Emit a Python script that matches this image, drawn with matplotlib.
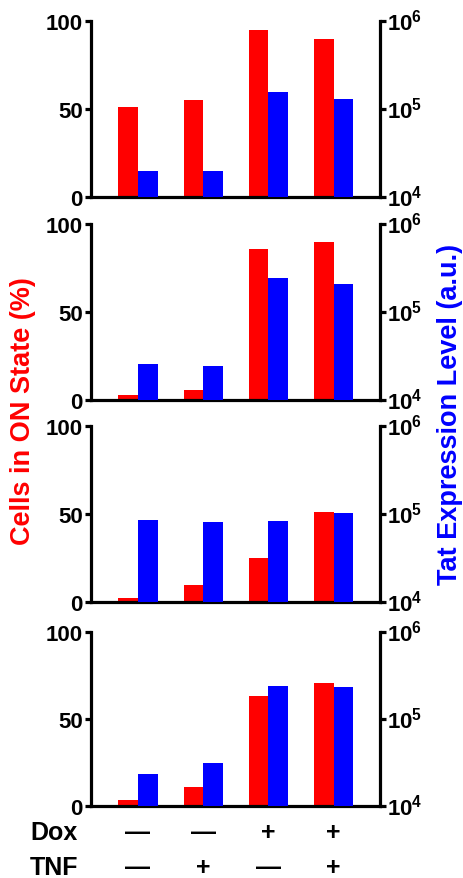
import numpy as np
import matplotlib
matplotlib.use("Agg")
import matplotlib.pyplot as plt
from matplotlib.transforms import blended_transform_factory, ScaledTranslation

plt.rcParams['font.family'] = ['Liberation Sans', 'DejaVu Sans']
plt.rcParams['font.weight'] = 'bold'
plt.rcParams['mathtext.fontset'] = 'custom'
plt.rcParams['mathtext.rm'] = 'Liberation Sans:bold'
plt.rcParams['mathtext.it'] = 'Liberation Sans:bold'
plt.rcParams['mathtext.bf'] = 'Liberation Sans:bold'

# percent of cells in ON state (left axis), one list per panel
on_state = [
    [51, 55, 95, 90],
    [3.1, 5.9, 85.6, 89.8],
    [2.4, 9.4, 24.8, 50.9],
    [3.6, 11.0, 63.0, 70.8],
]
# Tat expression level (right axis, log)
tat_level = [
    [2.0e4, 2.0e4, 1.55e5, 1.3e5],
    [2.55e4, 2.44e4, 2.43e5, 2.07e5],
    [8.6e4, 8.1e4, 8.4e4, 1.03e5],
    [2.32e4, 3.16e4, 2.37e5, 2.32e5],
]
dox = ['—', '—', '+', '+']
tnf = ['—', '+', '—', '+']

W, H = 464, 879
fig = plt.figure(figsize=(W / 100, H / 100), dpi=100)

# panel top/bottom in pixels from the top of the image
panels_px = [(22, 198), (225, 401), (427, 603), (633, 807)]
x_left, x_right = 91, 380

x = np.arange(4)
bw = 0.3
lw = 2.3
fs = 16
up = ScaledTranslation(0, 2 / 100, fig.dpi_scale_trans)

for i, (top, bot) in enumerate(panels_px):
    ax = fig.add_axes([x_left / W, 1 - bot / H, (x_right - x_left) / W, (bot - top) / H])
    ax.bar(x - bw / 2, on_state[i], bw, color='#ff0000')
    ax.set_ylim(0, 100)
    ax.set_xlim(-0.72, 3.71)
    ax.set_yticks([0, 50, 100])
    ax.set_xticks([])
    for s in ['top', 'right']:
        ax.spines[s].set_visible(False)
    for s in ['left', 'bottom']:
        ax.spines[s].set_linewidth(lw)
    ax.tick_params(axis='y', length=4, width=lw, pad=2, labelsize=fs)

    ax2 = ax.twinx()
    ax2.set_yscale('log')
    ax2.bar(x + bw / 2, np.array(tat_level[i]) - 1e4, bw, bottom=1e4, color='#0000ff')
    ax2.set_ylim(1e4, 1e6)
    ax2.set_yticks([1e4, 1e5, 1e6])
    ax2.set_yticklabels([r'$\mathregular{10^{4}}$', r'$\mathregular{10^{5}}$', r'$\mathregular{10^{6}}$'])
    ax2.minorticks_off()
    for s in ['top', 'left', 'bottom']:
        ax2.spines[s].set_visible(False)
    ax2.spines['right'].set_linewidth(lw)
    ax2.tick_params(axis='y', which='major', length=4, width=lw, pad=1, labelsize=fs)
    for lab in ax2.get_yticklabels():
        lab.set_transform(lab.get_transform() + up)

    if i == 3:
        tr = blended_transform_factory(ax.transData, fig.transFigure)
        for j in range(4):
            ax.text(x[j], 1 - 833 / H, dox[j], transform=tr, ha='center', va='center', fontsize=18)
            ax.text(x[j], 1 - 868 / H, tnf[j], transform=tr, ha='center', va='center', fontsize=18)
        fig.text(30 / W, 1 - 833 / H, 'Dox', ha='left', va='center', fontsize=18)
        fig.text(30 / W, 1 - 868 / H, 'TNF', ha='left', va='center', fontsize=18)

fig.text(23 / W, 1 - 411 / H, 'Cells in ON State (%)', rotation=90, color='#ff0000',
         ha='center', va='center', fontsize=19.5)
fig.text(450 / W, 1 - 414 / H, 'Tat Expression Level (a.u.)', rotation=90, color='#0000ff',
         ha='center', va='center', fontsize=19.5)

fig.savefig('out.png', dpi=100)
